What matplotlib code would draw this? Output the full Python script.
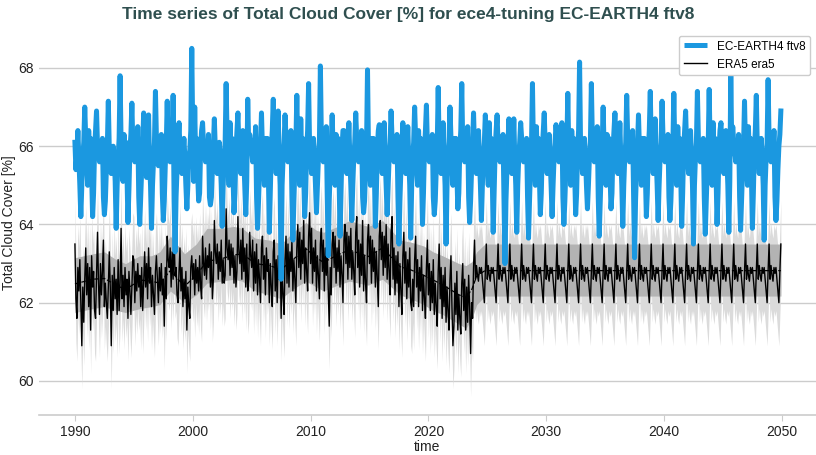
import numpy as np
import matplotlib
matplotlib.use('Agg')
import matplotlib.pyplot as plt

plt.rcParams['font.family'] = ['Liberation Sans', 'DejaVu Sans']

# monthly values, one row per year (Jan..Dec), EC-EARTH4 ftv8 1990-2049
ece_rows = [
    [66.1, 65.4, 65.8, 66.4, 65.7, 65.0, 64.2, 65.0, 65.7, 66.1, 67.0, 66.2],   # 1990
    [65.5, 65.0, 66.4, 65.6, 66.2, 65.3, 64.2, 64.8, 65.9, 66.4, 66.9, 66.0],
    [65.9, 65.6, 66.1, 65.7, 66.2, 64.7, 64.25, 64.6, 65.4, 66.0, 67.15, 65.9],
    [65.6, 65.3, 65.9, 66.0, 65.7, 65.1, 63.9, 65.0, 65.7, 66.2, 67.8, 66.1],
    [65.4, 65.1, 66.3, 65.6, 66.1, 65.3, 64.05, 64.9, 65.9, 66.3, 67.1, 66.0],
    [65.8, 65.6, 66.0, 65.7, 66.5, 64.7, 64.0, 64.7, 65.4, 66.0, 66.85, 65.9],
    [65.7, 65.2, 65.8, 66.8, 65.6, 65.0, 63.9, 65.0, 65.6, 66.1, 67.4, 66.2],
    [65.9, 65.5, 66.1, 65.8, 66.3, 64.8, 64.1, 64.6, 65.5, 66.0, 67.15, 65.9],
    [65.8, 65.6, 66.0, 65.7, 67.3, 64.6, 63.3, 64.7, 65.4, 66.1, 66.6, 65.9],
    [65.7, 65.3, 65.8, 66.2, 65.7, 65.0, 64.4, 65.0, 65.7, 65.9, 66.4, 68.5],
    [66.3, 65.1, 67.0, 65.6, 66.2, 65.3, 64.6, 64.8, 65.9, 66.4, 66.6, 66.0],   # 2000
    [65.9, 65.6, 66.1, 65.7, 66.3, 64.7, 64.5, 64.7, 65.4, 66.0, 66.7, 65.9],
    [65.7, 65.3, 65.8, 66.1, 65.7, 65.0, 63.95, 65.0, 65.7, 66.1, 67.6, 66.2],
    [65.5, 65.0, 66.6, 65.6, 66.2, 65.3, 64.3, 64.8, 65.9, 66.4, 66.85, 66.0],
    [65.7, 65.3, 65.8, 66.4, 65.7, 65.0, 64.25, 65.1, 67.2, 66.0, 66.3, 66.1],
    [65.9, 65.6, 66.1, 65.7, 66.5, 64.7, 63.9, 64.6, 65.4, 66.0, 66.85, 65.9],
    [65.5, 65.0, 66.2, 65.6, 66.2, 65.3, 63.8, 64.8, 65.9, 66.4, 67.2, 66.0],
    [65.7, 65.3, 65.8, 66.9, 65.7, 65.0, 62.6, 65.0, 65.7, 66.1, 66.8, 66.2],
    [65.9, 65.6, 66.1, 65.7, 66.4, 64.7, 63.6, 64.6, 65.4, 66.0, 67.3, 65.9],
    [65.5, 65.0, 66.7, 65.6, 66.2, 65.3, 64.2, 64.8, 65.9, 66.4, 67.6, 66.0],
    [65.7, 65.3, 65.8, 66.2, 65.7, 65.0, 64.3, 65.0, 65.7, 66.1, 68.05, 66.2],  # 2010
    [65.9, 65.6, 66.1, 65.7, 66.5, 64.7, 63.2, 64.6, 65.4, 66.0, 66.8, 65.9],
    [65.5, 65.0, 66.3, 65.6, 66.2, 65.3, 63.7, 64.8, 65.9, 66.4, 66.4, 66.0],
    [65.7, 65.3, 65.8, 66.6, 65.7, 65.0, 64.1, 65.0, 65.7, 66.1, 66.85, 66.2],
    [65.9, 65.6, 66.1, 65.7, 66.4, 64.7, 64.3, 64.6, 65.4, 66.0, 67.95, 65.9],
    [65.5, 65.0, 66.2, 65.6, 66.2, 65.3, 63.95, 64.8, 65.9, 66.4, 66.55, 66.0],
    [65.7, 65.3, 65.8, 66.6, 65.7, 65.0, 64.25, 65.0, 65.7, 66.1, 66.9, 66.2],
    [65.9, 65.6, 66.1, 65.7, 66.3, 64.7, 63.5, 64.6, 65.4, 66.0, 66.6, 65.9],
    [65.7, 65.3, 65.8, 66.5, 65.7, 65.0, 63.65, 65.0, 65.7, 66.1, 67.0, 66.2],
    [65.5, 65.0, 66.4, 65.6, 66.2, 65.3, 64.0, 64.8, 65.9, 66.4, 67.05, 66.0],
    [65.9, 65.6, 66.1, 65.7, 66.3, 64.7, 64.25, 64.6, 65.4, 66.0, 67.5, 65.9],  # 2020
    [65.7, 65.3, 65.8, 66.6, 65.7, 65.0, 63.5, 65.0, 65.7, 66.1, 67.0, 66.2],
    [65.5, 65.0, 66.2, 65.6, 66.2, 65.3, 64.4, 64.8, 65.9, 66.4, 67.6, 66.0],
    [65.9, 65.6, 66.1, 65.7, 66.5, 64.7, 64.05, 64.6, 65.4, 66.0, 66.85, 65.9],
    [65.7, 65.3, 65.8, 66.4, 65.7, 65.0, 64.1, 65.0, 65.7, 66.1, 66.8, 66.2],
    [65.5, 65.0, 66.6, 65.6, 66.2, 65.3, 63.8, 64.8, 65.9, 66.4, 66.8, 66.0],
    [65.9, 65.6, 66.1, 65.7, 66.3, 64.7, 63.0, 64.6, 65.4, 66.0, 66.7, 65.9],
    [65.7, 65.3, 65.8, 66.7, 65.7, 65.0, 63.8, 65.0, 65.7, 66.1, 66.6, 66.2],
    [65.9, 65.6, 66.1, 65.7, 66.2, 64.7, 63.65, 64.6, 65.4, 66.0, 67.6, 65.9],
    [65.5, 65.0, 66.5, 65.6, 66.2, 65.3, 64.25, 64.8, 65.9, 66.4, 66.85, 66.0],
    [65.7, 65.3, 65.8, 66.3, 65.7, 65.0, 64.2, 65.0, 65.7, 66.1, 66.55, 66.2],  # 2030
    [65.9, 65.6, 66.1, 65.7, 66.6, 64.7, 64.0, 64.6, 65.4, 66.0, 67.35, 65.9],
    [65.5, 65.0, 66.4, 65.6, 66.2, 65.3, 64.25, 64.8, 65.9, 66.4, 68.15, 66.0],
    [65.7, 65.3, 65.8, 66.2, 65.7, 65.0, 64.4, 65.0, 65.7, 66.1, 67.6, 66.2],
    [65.9, 65.6, 66.1, 65.7, 66.5, 64.7, 63.7, 64.6, 65.4, 66.0, 67.0, 65.9],
    [65.5, 65.0, 66.3, 65.6, 66.2, 65.3, 64.4, 64.8, 65.9, 66.4, 66.85, 66.0],
    [65.7, 65.3, 65.8, 66.6, 65.7, 65.0, 63.95, 65.0, 65.7, 66.1, 67.3, 66.2],
    [65.9, 65.6, 66.1, 65.7, 66.4, 64.7, 63.15, 64.6, 65.4, 66.0, 66.8, 65.9],
    [65.5, 65.0, 66.2, 65.6, 66.2, 65.3, 64.2, 64.8, 65.9, 66.4, 67.4, 66.0],
    [65.7, 65.3, 65.8, 66.7, 65.7, 65.0, 64.1, 65.0, 65.7, 66.1, 67.15, 66.2],
    [65.9, 65.6, 66.1, 65.7, 66.3, 64.7, 64.1, 64.6, 65.4, 66.0, 67.35, 65.9],  # 2040
    [65.5, 65.0, 66.5, 65.6, 66.2, 65.3, 63.95, 64.8, 65.9, 66.4, 66.9, 66.0],
    [65.7, 65.3, 65.8, 66.4, 65.7, 65.0, 63.5, 65.0, 65.7, 66.1, 67.4, 66.2],
    [65.9, 65.6, 66.1, 65.7, 66.2, 64.7, 63.75, 64.6, 65.4, 66.0, 67.45, 65.9],
    [65.5, 65.0, 66.6, 65.6, 66.2, 65.3, 64.0, 64.8, 65.9, 66.4, 66.6, 66.0],
    [65.7, 65.3, 65.8, 66.4, 65.7, 65.0, 63.8, 65.1, 67.8, 66.0, 66.5, 66.1],
    [65.9, 65.6, 66.1, 65.7, 66.3, 64.7, 63.85, 64.6, 65.4, 66.0, 67.15, 65.9],
    [65.5, 65.0, 66.5, 65.6, 66.2, 65.3, 63.9, 64.8, 65.9, 66.4, 67.3, 66.0],
    [65.7, 65.3, 65.8, 66.2, 65.7, 65.0, 63.6, 65.0, 65.7, 66.1, 67.7, 66.2],
    [65.9, 65.6, 66.1, 65.7, 66.4, 64.7, 64.1, 64.6, 65.4, 66.0, 66.3, 66.9],   # 2049
]

# ERA5 monthly 1990-2023
era5_rows = [
    [63.5, 62.1, 61.6, 62.9, 62.3, 63.1, 62.0, 60.9, 62.4, 61.5, 62.6, 63.4],   # 1990
    [62.2, 63.0, 61.9, 62.9, 61.3, 63.2, 62.4, 62.8, 61.8, 61.6, 62.7, 63.8],
    [62.5, 61.7, 63.0, 62.2, 62.8, 63.6, 61.9, 62.5, 62.0, 61.6, 62.4, 63.3],
    [62.4, 60.9, 62.7, 61.8, 62.9, 62.1, 62.6, 61.7, 63.1, 61.8, 62.5, 63.9],
    [62.1, 62.7, 61.9, 62.9, 62.2, 62.6, 61.6, 62.8, 62.3, 61.7, 62.4, 63.2],
    [63.1, 62.0, 62.8, 62.3, 63.0, 62.4, 62.7, 61.9, 62.9, 61.8, 62.5, 63.3],
    [62.4, 63.0, 62.1, 63.4, 62.5, 62.9, 61.9, 62.7, 62.2, 61.7, 62.8, 63.2],
    [62.6, 62.0, 62.9, 62.3, 63.0, 62.2, 62.6, 61.4, 62.9, 62.1, 63.7, 63.1],
    [62.9, 63.4, 62.4, 63.3, 62.6, 63.8, 62.7, 62.9, 62.2, 62.0, 62.8, 63.4],
    [62.3, 62.9, 61.9, 62.6, 62.1, 62.8, 61.3, 62.4, 61.9, 61.6, 62.9, 63.2],
    [62.6, 63.0, 62.2, 63.1, 62.5, 62.9, 62.3, 63.2, 62.4, 62.1, 63.7, 63.0],   # 2000
    [62.7, 63.4, 62.6, 63.2, 62.9, 63.5, 62.4, 63.3, 62.1, 62.6, 64.1, 63.3],
    [63.0, 63.5, 62.6, 63.3, 62.8, 63.6, 62.5, 63.1, 62.5, 62.7, 64.4, 63.4],
    [63.1, 63.6, 62.7, 63.5, 62.9, 63.4, 62.5, 63.2, 62.4, 62.8, 64.2, 63.3],
    [63.0, 63.6, 62.6, 63.9, 62.8, 63.4, 62.4, 63.5, 62.3, 62.6, 63.8, 63.2],
    [62.9, 63.6, 62.3, 63.3, 62.5, 63.5, 62.2, 63.1, 62.6, 62.0, 63.4, 63.7],
    [62.6, 63.2, 62.2, 63.4, 62.8, 63.1, 62.0, 63.0, 62.4, 61.9, 63.3, 63.6],
    [62.3, 63.1, 62.0, 63.2, 62.6, 63.3, 61.6, 62.8, 62.2, 61.7, 63.1, 63.7],
    [62.5, 63.5, 62.4, 63.3, 62.8, 63.6, 62.3, 63.1, 62.6, 62.0, 63.4, 64.0],
    [62.9, 63.8, 62.6, 63.6, 63.0, 64.1, 62.5, 63.4, 62.8, 62.3, 63.7, 64.3],
    [63.0, 63.9, 62.5, 63.4, 62.8, 63.6, 62.3, 63.2, 62.7, 62.1, 63.5, 63.9],   # 2010
    [62.8, 63.6, 62.3, 63.4, 62.7, 63.3, 62.4, 61.4, 62.9, 62.2, 63.5, 63.8],
    [62.9, 63.7, 62.5, 63.4, 62.8, 63.6, 62.4, 63.2, 62.7, 62.0, 63.6, 64.0],
    [63.0, 63.8, 62.6, 63.7, 62.9, 63.9, 62.6, 63.3, 62.8, 62.2, 63.8, 64.2],
    [62.9, 63.6, 62.4, 63.5, 62.7, 64.1, 62.3, 63.2, 62.5, 62.0, 63.6, 64.0],
    [63.0, 63.7, 62.5, 63.6, 62.8, 63.4, 62.4, 63.3, 62.6, 61.9, 63.7, 64.1],
    [63.1, 63.8, 62.7, 63.7, 62.9, 64.0, 62.6, 63.5, 62.8, 62.2, 63.8, 64.2],
    [62.6, 63.4, 62.2, 63.2, 62.5, 63.3, 61.9, 63.0, 62.3, 61.7, 63.2, 63.8],
    [62.5, 63.3, 62.1, 63.1, 62.4, 63.4, 62.0, 61.8, 62.6, 61.9, 63.1, 63.7],
    [62.4, 63.1, 61.9, 62.9, 62.3, 63.2, 61.8, 62.7, 62.1, 61.6, 62.9, 63.6],
    [62.2, 63.0, 61.8, 62.8, 62.0, 63.1, 61.7, 62.5, 61.9, 61.4, 62.8, 63.5],   # 2020
    [62.1, 62.9, 61.6, 62.7, 61.9, 62.9, 61.5, 62.4, 61.8, 61.3, 62.6, 63.2],
    [61.9, 60.9, 61.4, 62.5, 61.7, 62.8, 61.3, 62.2, 61.6, 61.2, 62.5, 63.0],
    [61.8, 62.6, 61.3, 62.4, 61.5, 62.7, 61.9, 60.7, 62.0, 61.6, 62.9, 63.6],
]

# ERA5 monthly climatology used after 2023 (Jan..Dec)
era5_clim = [62.6, 62.95, 62.7, 62.55, 62.9, 62.75, 62.9, 62.6, 62.3, 62.0, 62.8, 63.5]
n_clim_years = 26

# smoothed ERA5 mean and its band
era5_mean_t = [1990.0, 1991.5, 1992.5, 1993.5, 1994.3, 1995.5, 1996.5, 1997.2, 1998.1, 1999.3,
               2000.3, 2001.2, 2002.4, 2003.5, 2004.2, 2005.3, 2006.5, 2007.5, 2008.5, 2009.6,
               2010.5, 2011.1, 2012.3, 2013.3, 2014.9, 2016.1, 2017.6, 2018.5, 2019.6, 2020.4,
               2021.2, 2022.6, 2023.2, 2023.7, 2024.1, 2024.8, 2049.92]
era5_mean = [62.48, 62.6, 62.62, 62.45, 62.33, 62.58, 62.55, 62.5, 62.82, 62.42,
             62.7, 63.06, 63.12, 63.22, 63.25, 63.0, 62.95, 62.85, 63.1, 63.38,
             63.15, 63.03, 63.22, 63.35, 63.18, 63.4, 62.92, 62.84, 62.7, 62.58,
             62.46, 62.2, 62.13, 62.35, 62.68, 62.82, 62.82]
era5_band_lo = [61.75, 61.85, 61.9, 61.8, 61.75, 61.85, 61.9, 61.95, 62.3, 62.0,
                62.2, 62.5, 62.55, 62.6, 62.55, 62.3, 62.2, 62.1, 62.35, 62.55,
                62.4, 62.3, 62.45, 62.55, 62.45, 62.6, 62.2, 62.1, 61.95, 61.8,
                61.7, 61.45, 61.35, 61.6, 61.95, 62.17, 62.17]
era5_band_hi = [63.15, 63.25, 63.3, 63.1, 63.0, 63.2, 63.2, 63.3, 63.7, 63.25,
                63.5, 63.9, 63.9, 63.95, 63.9, 63.65, 63.6, 63.5, 63.8, 64.05,
                63.85, 63.8, 63.95, 64.1, 63.95, 64.1, 63.6, 63.55, 63.45, 63.3,
                63.2, 63.0, 62.95, 63.05, 63.3, 63.5, 63.5]

# smoothed EC-EARTH mean
ece_mean_t = [1990.0, 2000.0, 2010.0, 2020.0, 2030.0, 2040.0, 2049.92]
ece_mean = [65.8, 65.85, 65.82, 65.85, 65.8, 65.82, 65.8]

xticks = [1990, 2000, 2010, 2020, 2030, 2040, 2050]
yticks = [60, 62, 64, 66, 68]

blue = '#1b98e0'

ece = np.concatenate(ece_rows)
era5 = np.concatenate([np.concatenate(era5_rows), np.tile(era5_clim, n_clim_years)])
t = 1990 + np.arange(len(ece)) / 12.0

fig = plt.figure(figsize=(8.16, 4.55), dpi=100)
ax = fig.add_axes([39 / 816, 40 / 455, 777 / 816, 385 / 455])

# grey shading first
ax.fill_between(t, era5 - 1.1, era5 + 1.1, color='#dbdbdb', lw=0, zorder=1)
ax.fill_between(era5_mean_t, era5_band_lo, era5_band_hi, color='#b3b3b3', lw=0, zorder=2)

era5_line, = ax.plot(t, era5, color='black', lw=1.0, zorder=3, label='ERA5 era5')
ax.plot(era5_mean_t, era5_mean, color='black', lw=0.9, ls='--', zorder=3)

ax.plot(t, ece, color=blue, lw=3.6, zorder=4, solid_joinstyle='round')
ece_line, = ax.plot(ece_mean_t, ece_mean, color=blue, lw=3.6, ls=(0, (5, 0.7)), zorder=4,
                    label='EC-EARTH4 ftv8')

ax.set_xlim(1986.95, 2052.9)
ax.set_ylim(59.13, 68.97)
ax.set_xticks(xticks)
ax.set_yticks(yticks)
ax.tick_params(axis='x', length=4, color='#cccccc', labelsize=10, labelcolor='#222222', pad=3)
ax.tick_params(axis='y', length=0, labelsize=10, labelcolor='#222222')
ax.grid(axis='y', color='#cccccc', lw=1)
ax.set_axisbelow(True)
for s in ['left', 'right', 'top']:
    ax.spines[s].set_visible(False)
ax.spines['bottom'].set_color('#cccccc')
ax.spines['bottom'].set_linewidth(1.2)

ax.set_xlabel('time', fontsize=10, color='#222222', labelpad=1)
ax.set_ylabel('Total Cloud Cover [%]', fontsize=10, color='#222222', labelpad=2)

ax.legend(handles=[ece_line, era5_line], loc='upper right', fontsize=8.5, frameon=True,
          edgecolor='#cccccc', framealpha=1)

fig.suptitle('Time series of Total Cloud Cover [%] for ece4-tuning EC-EARTH4 ftv8',
             fontsize=12.5, fontweight='bold', color='#2f4f4f', y=0.985)

fig.savefig('out.png', dpi=100)
